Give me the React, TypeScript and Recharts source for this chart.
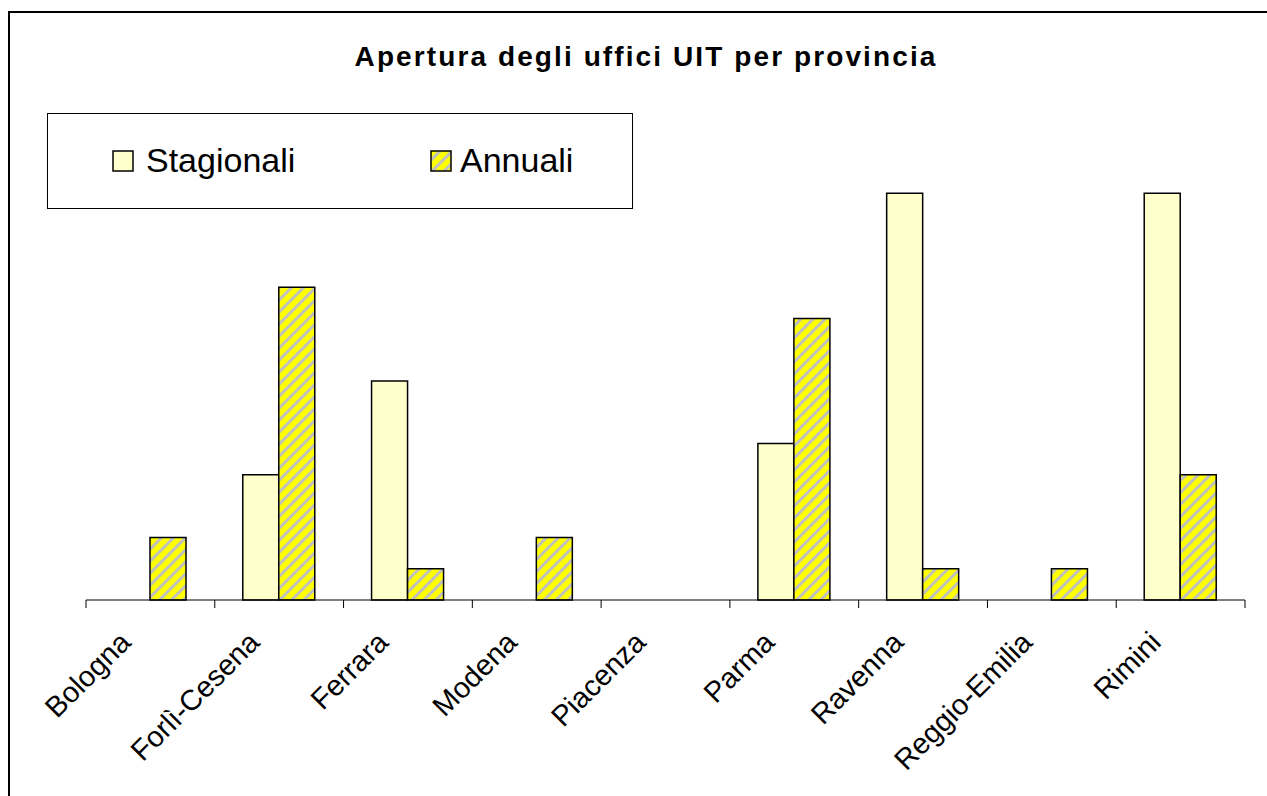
import React from 'react';
import { BarChart, Bar, XAxis, YAxis } from 'recharts';

const categories = ['Bologna', 'Forlì-Cesena', 'Ferrara', 'Modena', 'Piacenza', 'Parma', 'Ravenna', 'Reggio-Emilia', 'Rimini'];
const stagionali = [0, 4, 7, 0, 0, 5, 13, 0, 13];
const annuali = [2, 10, 1, 2, 0, 9, 1, 1, 4];
const yDomain = [0, 14];

const title = 'Apertura degli uffici UIT per provincia';
const seriesNames = ['Stagionali', 'Annuali'];

const data = categories.map((name, i) => ({ name, stagionali: stagionali[i], annuali: annuali[i] }));

const FONT = "Arial, 'Liberation Sans', sans-serif";
const LIGHT = '#FFFFCC';
const CHART_W = 1267;
const MARGIN = { top: 162, left: 86, right: 22, bottom: 96 };

const CatTick = (props: any) => {
  const { x, y, payload, index } = props;
  const half = payload && typeof payload.offset === 'number' && payload.offset > 0
    ? payload.offset
    : (CHART_W - MARGIN.left - MARGIN.right) / categories.length / 2;
  const tx = x - 18;
  const ty = y + 44;
  const isLast = index === categories.length - 1;
  return (
    <g>
      <line x1={x - half} x2={x - half} y1={y} y2={y + 8} stroke="#000" strokeWidth={1} />
      {isLast && <line x1={x + half} x2={x + half} y1={y} y2={y + 8} stroke="#000" strokeWidth={1} />}
      <text x={tx} y={ty} transform={`rotate(-45, ${tx}, ${ty})`} textAnchor="end" fontSize={29} fontFamily={FONT} fill="#000">
        {payload.value}
      </text>
    </g>
  );
};

export default function App() {
  return (
    <div style={{ position: 'absolute', left: 0, top: 0, width: 1267, height: 796, overflow: 'hidden', background: '#fff' }}>
      <div style={{ position: 'absolute', left: 0, top: 0 }}>
        <BarChart
          width={CHART_W}
          height={796}
          data={data}
          margin={MARGIN}
          barCategoryGap={28}
          barGap={0}
        >
          <XAxis
            dataKey="name"
            axisLine={{ stroke: '#000', strokeWidth: 1 }}
            tickLine={false}
            tickSize={0}
            tickMargin={0}
            interval={0}
            height={100}
            tick={<CatTick />}
          />
          <YAxis hide domain={yDomain} />
          <Bar dataKey="stagionali" name={seriesNames[0]} fill={LIGHT} stroke="#000" strokeWidth={1.5} isAnimationActive={false} />
          <Bar dataKey="annuali" name={seriesNames[1]} fill="url(#hatch)" stroke="#000" strokeWidth={1.5} isAnimationActive={false} />
        </BarChart>
      </div>
      <svg width={1267} height={796} style={{ position: 'absolute', left: 0, top: 0, pointerEvents: 'none' }}>
        <defs>
          <pattern id="hatch" patternUnits="userSpaceOnUse" width={8.5} height={8.5} patternTransform="rotate(45)">
            <rect x={0} y={0} width={8.5} height={8.5} fill="#FFFF00" />
            <rect x={0} y={0} width={3} height={8.5} fill="#C0C0C0" />
          </pattern>
        </defs>
        <rect x={9} y={12} width={1400} height={1000} fill="none" stroke="#000" strokeWidth={2} />
        <text x={646} y={66} textAnchor="middle" fontSize={28} fontWeight="bold" fontFamily={FONT} letterSpacing={2.1} fill="#000">
          {title}
        </text>
        <rect x={47.5} y={113.5} width={585} height={95} fill="#fff" stroke="#000" strokeWidth={1} />
        <rect x={113} y={151} width={20} height={20} fill={LIGHT} stroke="#000" strokeWidth={1.5} />
        <text x={146} y={172} fontSize={34} fontFamily={FONT} fill="#000">{seriesNames[0]}</text>
        <rect x={431} y={151} width={20} height={20} fill="url(#hatch)" stroke="#000" strokeWidth={1.5} />
        <text x={460} y={172} fontSize={34} fontFamily={FONT} fill="#000">{seriesNames[1]}</text>
      </svg>
    </div>
  );
}
